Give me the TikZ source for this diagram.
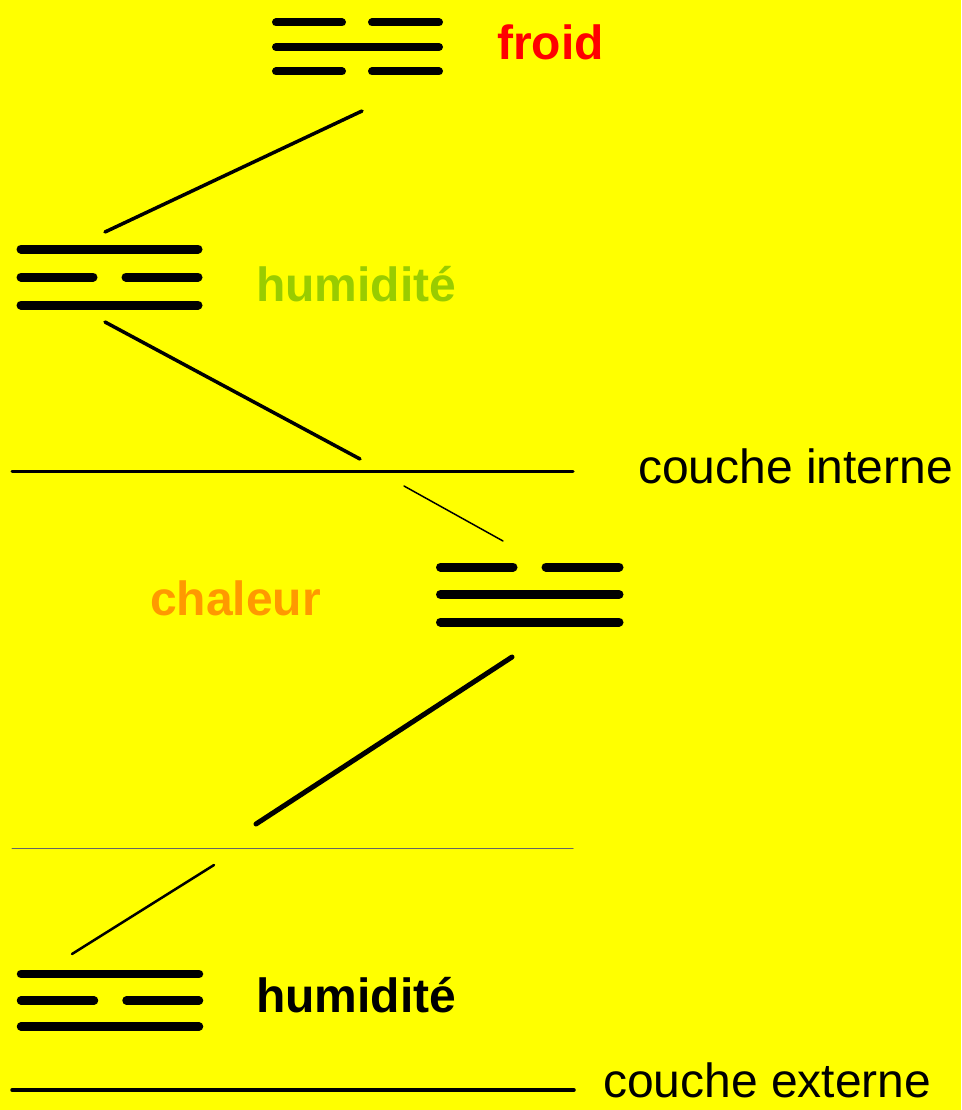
\documentclass[tikz,border=0pt]{standalone}
\usepackage{fontspec}
\setmainfont{Liberation Sans}
\usetikzlibrary{positioning}
\definecolor{froidred}{HTML}{FF0000}
\definecolor{humgreen}{HTML}{99CC00}
\definecolor{chalorange}{HTML}{FF9900}
\definecolor{bgyellow}{HTML}{FFFF00}

\begin{document}
\begin{tikzpicture}[x=1pt,y=-1pt,line cap=round,
    yao/.style={line width=9pt},
    link/.style={line width=3.5pt},
    couche/.style={line width=3pt},
    txt/.style={anchor=base west,inner sep=0pt,font=\fontsize{48}{58}\selectfont}]
  \fill[bgyellow] (0,0) rectangle (961,1110);
  \useasboundingbox (0,0) rectangle (961,1110);

  \draw[yao,line width=8pt]
    (276,22.5) -- (342,22.5) (372,22.5) -- (439,22.5)
    (276,47) -- (439,47)
    (276,71.5) -- (342,71.5) (372,71.5) -- (439,71.5);
  \draw[yao]
    (21,249) -- (198,249)
    (21,277) -- (93,277) (126,277) -- (198,277)
    (21,305) -- (198,305);
  \draw[yao]
    (440.5,567) -- (513,567) (546,567) -- (619,567)
    (440.5,594.5) -- (619,594.5)
    (440.5,622) -- (619,622);
  \draw[yao,line width=8.5pt]
    (21,974) -- (199,974)
    (21,1000.5) -- (94,1000.5) (126.5,1000.5) -- (199,1000.5)
    (21,1026.5) -- (199,1026.5);

  \node[txt,text=froidred] (froid) at (497,59.5) {\bfseries froid};
  \node[txt,text=humgreen] (hum1) at (256,301) {\bfseries humidité};
  \node[txt] (interne) at (638,483) {couche interne};
  \node[txt,text=chalorange] (chaleur) at (150,615) {\bfseries chaleur};
  \node[txt] (hum2) at (256,1012) {\bfseries humidité};
  \node[txt] (externe) at (603,1097) {couche externe};

  \coordinate (f0) at (362,111);
  \coordinate (h0) at (105,232);
  \coordinate (h1) at (105,322);
  \coordinate (i0) at (360,459);
  \coordinate (i1) at (404,486);
  \coordinate (c0) at (503,541);
  \coordinate (c1) at (512,657);
  \coordinate (m0) at (256,824);
  \coordinate (m1) at (214,865);
  \coordinate (e0) at (72,954);
  \coordinate (il) at (12,471);
  \coordinate (ir) at (573,471);
  \coordinate (ml) at (12,848.5);
  \coordinate (mr) at (573,848.5);
  \coordinate (el) at (12,1090);
  \coordinate (er) at (574,1090);

  \draw[link] (f0) -- (h0);
  \draw[link] (h1) -- (i0);
  \draw[couche] (il) -- (ir);
  \draw[line width=1.5pt] (i1) -- (c0);
  \draw[line width=5pt] (c1) -- (m0);
  \draw[line width=1pt,black!60] (ml) -- (mr);
  \draw[line width=2.5pt] (m1) -- (e0);
  \draw[couche,line width=3.5pt] (el) -- (er);
\end{tikzpicture}
\end{document}
